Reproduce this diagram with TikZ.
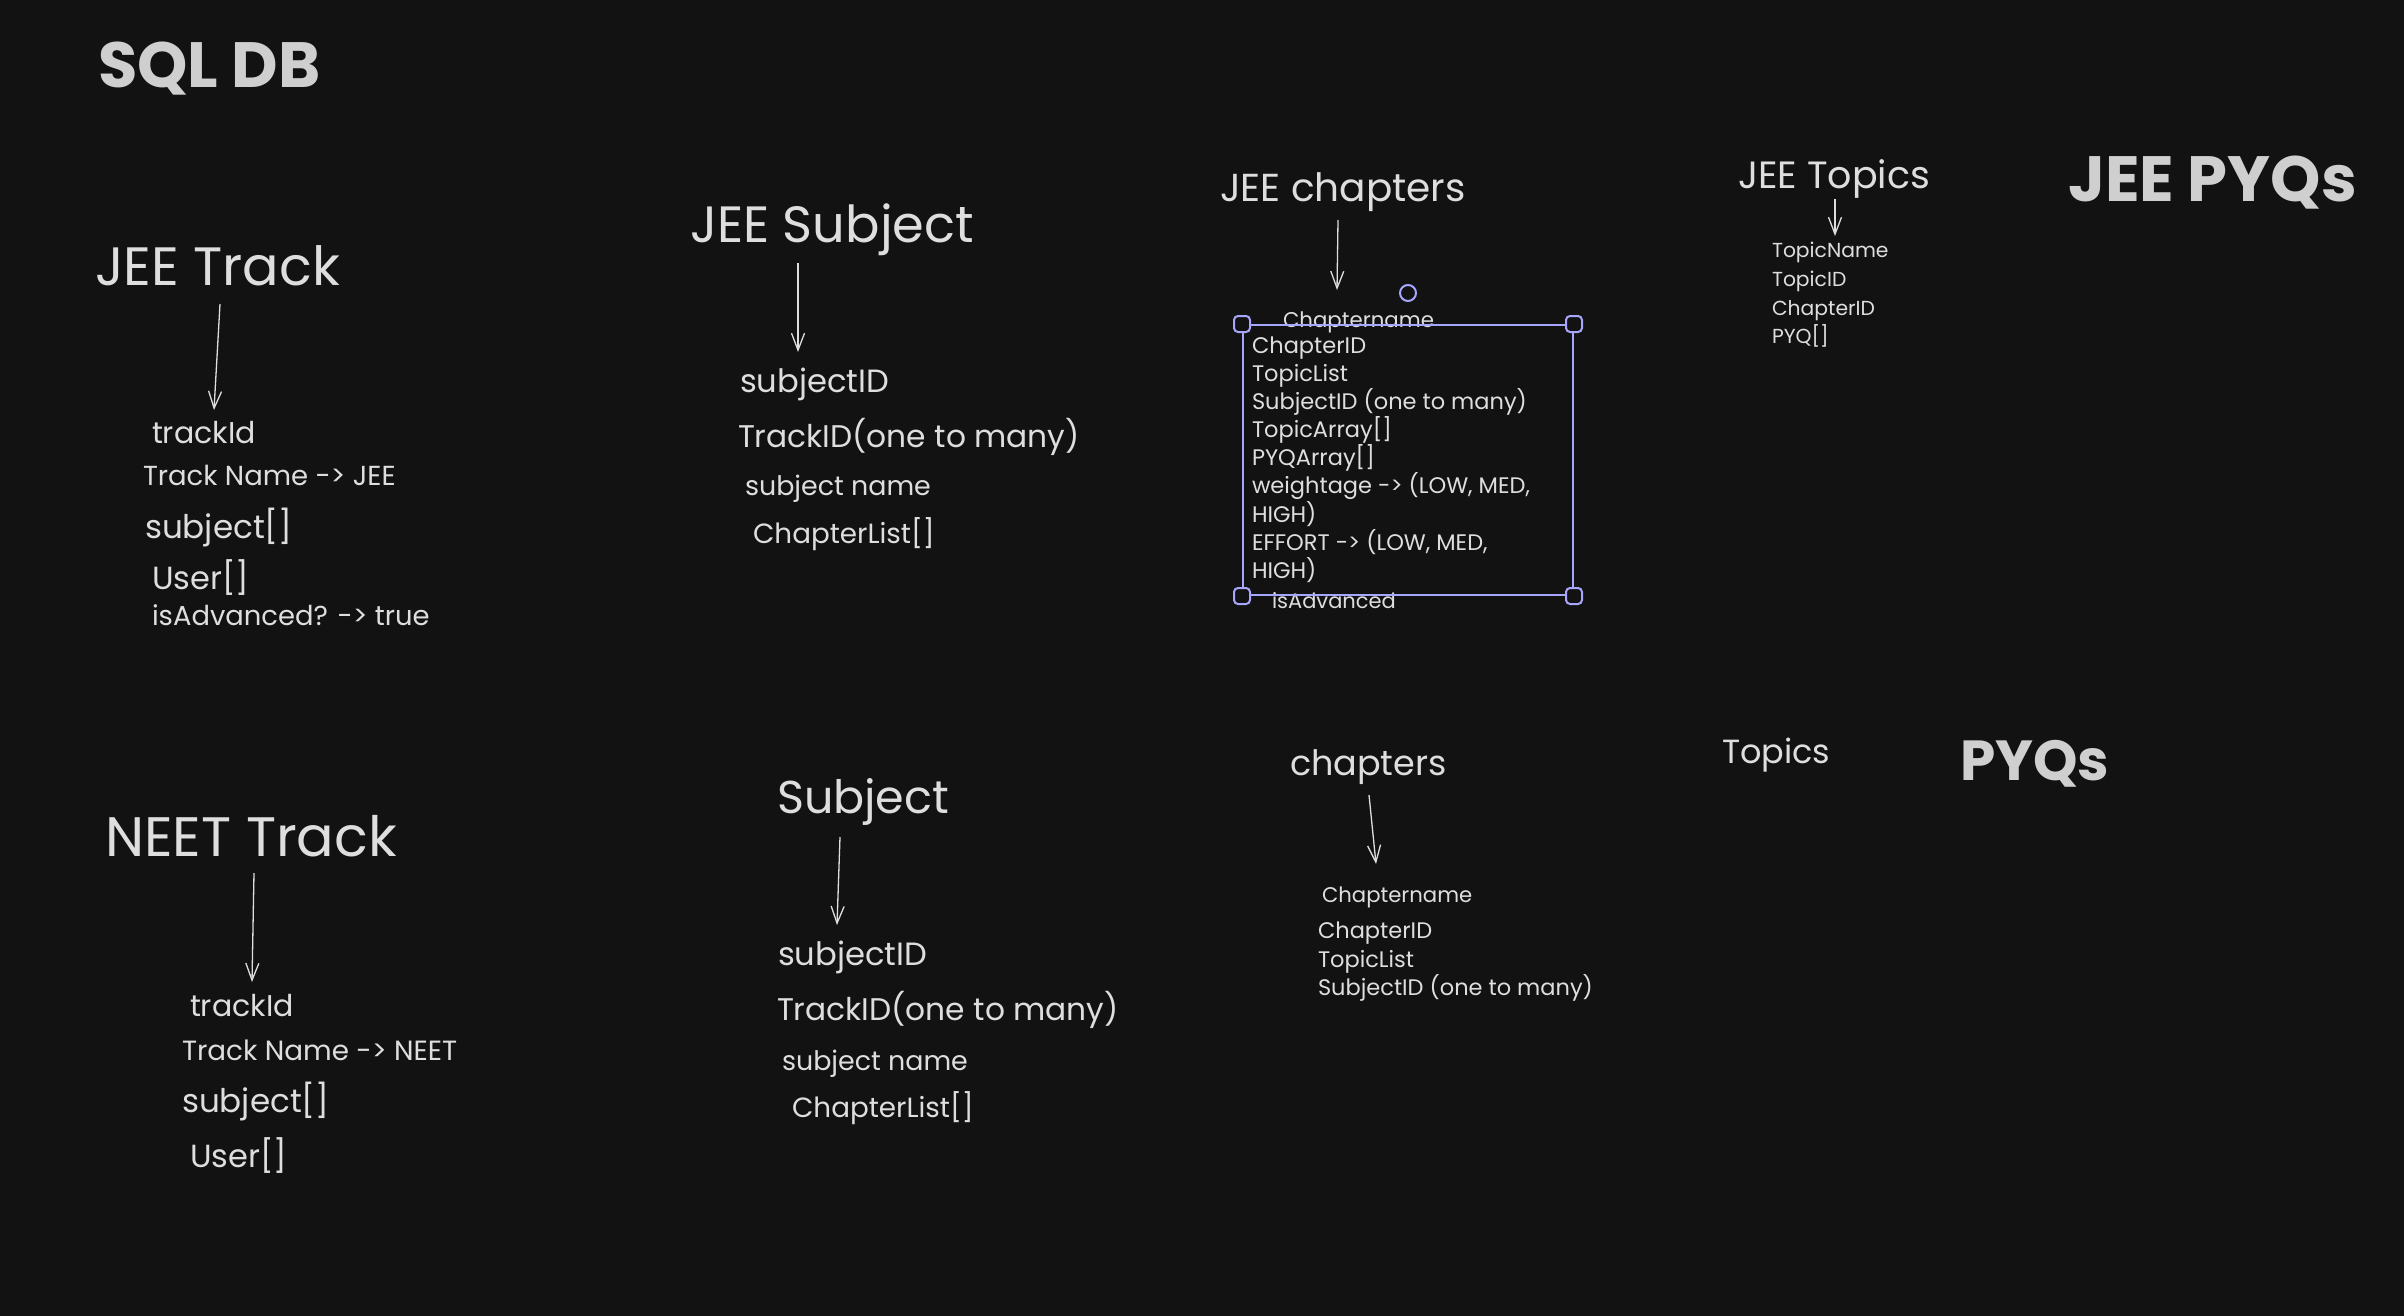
\documentclass[tikz,border=0pt]{standalone}
\usepackage{fontspec}
\setmainfont{Poppins}
\usetikzlibrary{arrows.meta}

\definecolor{board}{HTML}{121212}
\definecolor{chalk}{HTML}{DEDEDE}
\definecolor{chalkdim}{HTML}{CFCFCF}
\definecolor{selpurple}{HTML}{A8A5FF}

\tikzset{
  lbl/.style={text=chalk, anchor=base west, inner sep=0pt, outer sep=0pt, font=\fontsize{#1}{#1}\selectfont},
  big/.style={lbl=#1, text=chalkdim, font=\fontsize{#1}{#1}\selectfont\bfseries},
  link/.style={draw=chalk, line width=1.3pt, -{Straight Barb[length=17pt,width=13pt]}},
  selbox/.style={draw=selpurple, line width=2pt, inner sep=0pt},
  handle/.style={draw=selpurple, fill=board, line width=2pt, rounded corners=4pt, minimum size=16pt, inner sep=0pt}
}

\begin{document}
\begin{tikzpicture}[x=1pt, y=-1pt]
\fill[board] (0,0) rectangle (2404,1316);

\node[big=64] (sqldb) at (98,88) {SQL DB};

% JEE track
\node[lbl=54] (jeetrack) at (95,285) {JEE Track};
\node[lbl=30] (jt-id) at (152,443) {trackId};
\node[lbl=27.5] (jt-name) at (143,485) {Track Name -> JEE};
\node[lbl=32.6] (jt-subj) at (145,538) {subject[]};
\node[lbl=32] (jt-user) at (152,589) {User[]};
\node[lbl=27.4] (jt-adv) at (152,625) {isAdvanced? -> true};
\coordinate (jt-a) at (220,304);
\coordinate (jt-b) at (214,410);
\draw[link] (jt-a) -- (jt-b);

% NEET track
\node[lbl=55.6] (neettrack) at (105,856) {NEET Track};
\node[lbl=30] (nt-id) at (190,1016) {trackId};
\node[lbl=27.8] (nt-name) at (182,1060) {Track Name -> NEET};
\node[lbl=32.6] (nt-subj) at (182,1112) {subject[]};
\node[lbl=32] (nt-user) at (190,1167) {User[]};
\coordinate (nt-a) at (254,873);
\coordinate (nt-b) at (252,982);
\draw[link] (nt-a) -- (nt-b);

% JEE subject
\node[lbl=51] (jeesubj) at (690,243) {JEE Subject};
\node[lbl=32.2] (js-id) at (740,392) {subjectID};
\node[lbl=31.3] (js-track) at (738,447) {TrackID(one to many)};
\node[lbl=26.9] (js-name) at (745,495) {subject name};
\node[lbl=27.8] (js-ch) at (753,543) {ChapterList[]};
\coordinate (js-a) at (798,263);
\coordinate (js-b) at (798,352);
\draw[link] (js-a) -- (js-b);

% subject
\node[lbl=46] (subj) at (777,813) {Subject};
\node[lbl=32.2] (s-id) at (778,965) {subjectID};
\node[lbl=31.3] (s-track) at (777,1020) {TrackID(one to many)};
\node[lbl=26.9] (s-name) at (782,1070) {subject name};
\node[lbl=27.8] (s-ch) at (792,1117) {ChapterList[]};
\coordinate (s-a) at (840,837);
\coordinate (s-b) at (837,925);
\draw[link] (s-a) -- (s-b);

% JEE chapters
\node[lbl=39] (jeechap) at (1220,202) {JEE chapters};
\node[lbl=21.3] (jc-name) at (1283,327) {Chaptername};
\node[lbl=22.5] (jc-id) at (1252,353) {ChapterID};
\node[lbl=22.5] (jc-topics) at (1252,381) {TopicList};
\node[lbl=22.5] (jc-subj) at (1252,409) {SubjectID (one to many)};
\node[lbl=22.5] (jc-tarr) at (1252,437) {TopicArray[]};
\node[lbl=22.5] (jc-parr) at (1252,465) {PYQArray[]};
\node[lbl=22.5] (jc-wt) at (1252,493) {weightage -> (LOW, MED,};
\node[lbl=22.5] (jc-wt2) at (1252,522) {HIGH)};
\node[lbl=22.5] (jc-eff) at (1252,550) {EFFORT -> (LOW, MED,};
\node[lbl=22.5] (jc-eff2) at (1252,578) {HIGH)};
\node[lbl=21] (jc-adv) at (1272,608) {isAdvanced};
\coordinate (jc-a) at (1338,220);
\coordinate (jc-b) at (1337,290);
\draw[link] (jc-a) -- (jc-b);

% selection on the chapter fields
\node[selbox, minimum width=330pt, minimum height=270pt] (chsel) at (1408,460) {};
\node[handle] (h-nw) at (chsel.north west) {};
\node[handle] (h-ne) at (chsel.north east) {};
\node[handle] (h-sw) at (chsel.south west) {};
\node[handle] (h-se) at (chsel.south east) {};
\node[circle, draw=selpurple, line width=2pt, minimum size=16pt, inner sep=0pt] (h-rot) at (1408,293) {};

% chapters
\node[lbl=35] (chap) at (1290,775) {chapters};
\node[lbl=21.2] (c-name) at (1322,902) {Chaptername};
\node[lbl=22.5] (c-id) at (1318,938) {ChapterID};
\node[lbl=22.5] (c-topics) at (1318,967) {TopicList};
\node[lbl=22.5] (c-subj) at (1318,995) {SubjectID (one to many)};
\coordinate (c-a) at (1369,795);
\coordinate (c-b) at (1376,864);
\draw[link] (c-a) -- (c-b);

% JEE topics
\node[lbl=38] (jeetop) at (1738,189) {JEE Topics};
\node[lbl=20.3] (jtp-name) at (1772,258) {TopicName};
\node[lbl=20.3] (jtp-id) at (1772,286) {TopicID};
\node[lbl=20.3] (jtp-ch) at (1772,315) {ChapterID};
\node[lbl=20.3] (jtp-pyq) at (1772,343) {PYQ[]};
\coordinate (jtp-a) at (1835,199);
\coordinate (jtp-b) at (1835,236);
\draw[link] (jtp-a) -- (jtp-b);

\node[lbl=33.5] (top) at (1722,763) {Topics};

% PYQs
\node[big=64] (jeepyq) at (2068,202) {JEE PYQs};
\node[big=56.5] (pyq) at (1960,780) {PYQs};
\end{tikzpicture}
\end{document}
